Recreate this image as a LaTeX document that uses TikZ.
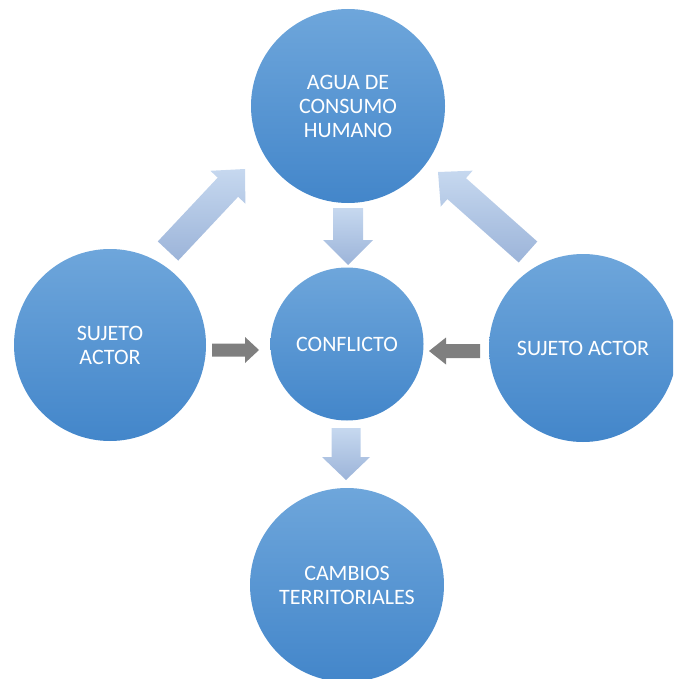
\documentclass[tikz,border=0pt]{standalone}
\usepackage{fontspec}
\setmainfont{Carlito}
\usetikzlibrary{calc}
\definecolor{circtop}{HTML}{6EA6DB}
\definecolor{circbot}{HTML}{4386CA}
\definecolor{arrtop}{HTML}{C6D8EF}
\definecolor{arrbot}{HTML}{9CB4D9}
\definecolor{greyarr}{HTML}{7F7F7F}
% #1 name prefix, #2 shaft half width, #3 head half width, #4 head length, #5 style
\newcommand\blockarrowpath[5]{%
  \coordinate (#1-b) at ($(#1-tip)!#4!(#1-tail)$);
  \path[#5] ($(#1-tail)!#2!90:(#1-tip)$) -- ($(#1-b)!#2!90:(#1-tip)$)
    -- ($(#1-b)!#3!90:(#1-tip)$) -- (#1-tip) -- ($(#1-b)!#3!-90:(#1-tip)$)
    -- ($(#1-b)!#2!-90:(#1-tip)$) -- ($(#1-tail)!#2!-90:(#1-tip)$) -- cycle;}
\tikzset{
  bubble/.style={circle, minimum size=#1, inner sep=0pt, top color=circtop,
    bottom color=circbot, text=white, align=center,
    font=\fontsize{22}{24}\selectfont},
  lightarrow/.style={top color=arrtop, bottom color=arrbot},
  darkarrow/.style={fill=greyarr}
}
\begin{document}
\begin{tikzpicture}[x=1pt,y=-1pt]
\useasboundingbox (0,0) rectangle (673,679);
\clip (0,0) rectangle (673,679);
\node[bubble=194pt] (agua) at (348,106) {AGUA DE\\CONSUMO\\HUMANO};
\node[bubble=192pt] (sujl) at (110,345) {SUJETO\\ACTOR};
\node[bubble=188pt] (sujr) at (583,348) {SUJETO ACTOR};
\node[bubble=153pt] (conf) at (347,344) {CONFLICTO};
\node[bubble=194pt] (camb) at (347,585) {CAMBIOS\\TERRITORIALES};
% light arrows
\coordinate (a1-tail) at (168,251); \coordinate (a1-tip) at (245,169);
\blockarrowpath{a1}{14pt}{24pt}{25pt}{lightarrow}
\coordinate (a2-tail) at (528,252); \coordinate (a2-tip) at (438,172);
\blockarrowpath{a2}{14pt}{24pt}{25pt}{lightarrow}
\coordinate (a3-tail) at (348,208); \coordinate (a3-tip) at (348,265);
\blockarrowpath{a3}{15pt}{25pt}{25pt}{lightarrow}
\coordinate (a4-tail) at (346,428); \coordinate (a4-tip) at (346,480);
\blockarrowpath{a4}{14.5pt}{24pt}{23pt}{lightarrow}
% grey arrows
\coordinate (g1-tail) at (212,350); \coordinate (g1-tip) at (259,350);
\blockarrowpath{g1}{6.5pt}{13pt}{14pt}{darkarrow}
\coordinate (g2-tail) at (480,351); \coordinate (g2-tip) at (429,351);
\blockarrowpath{g2}{7pt}{13.5pt}{17pt}{darkarrow}
\end{tikzpicture}
\end{document}
